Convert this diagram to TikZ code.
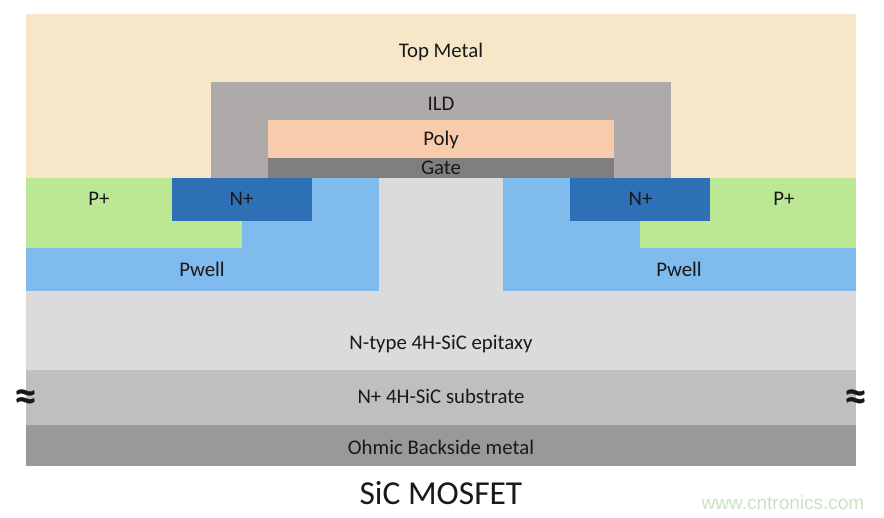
\documentclass[tikz,border=0pt]{standalone}
\usepackage{fontspec}
\setmainfont{Carlito}
\newfontfamily\markfont{Liberation Sans}
\definecolor{metalcol}{HTML}{F8E6C8}
\definecolor{ildcol}{HTML}{AEAAAA}
\definecolor{polycol}{HTML}{F8CBAD}
\definecolor{gatecol}{HTML}{7F7F7F}
\definecolor{epicol}{HTML}{DBDBDB}
\definecolor{wellcol}{HTML}{7FBBEC}
\definecolor{ppluscol}{HTML}{BCE795}
\definecolor{npluscol}{HTML}{2E70B6}
\definecolor{subcol}{HTML}{BFBFBF}
\definecolor{backcol}{HTML}{999999}
\definecolor{markcol}{HTML}{C8E4C0}
\begin{document}
\begin{tikzpicture}
	[x=1pt,y=-1pt,every node/.style={font=\fontsize{20.8}{22}\selectfont,inner sep=0pt,anchor=base,text=black!90},
	title/.style={font=\fontsize{33.5}{36}\selectfont},
	breakmark/.style={font=\fontsize{46}{48}\selectfont\bfseries},
	webmark/.style={font=\fontsize{19}{22}\markfont,text=markcol}]
	\useasboundingbox (0,0) rectangle (884,518);
	\fill[white] (0,0) rectangle (884,518);

	\foreach \xa/\ya/\xb/\yb/\col in {26/14/856/178.3/metalcol,211/82/671/178.3/ildcol,
		268.3/120/613.5/157.7/polycol,268.3/157.7/613.5/178.3/gatecol,26/178.3/856/370/epicol,
		26/178.3/379/291/wellcol,503/178.3/856/291/wellcol,26/178.3/242/248/ppluscol,
		640/178.3/856/248/ppluscol,172/178.3/311.7/221/npluscol,570/178.3/710/221/npluscol,
		26/370/856/425/subcol,26/425/856/466/backcol}
	\fill[\col] (\xa,\ya) rectangle (\xb,\yb);

	\node (metal) at (441,58) {Top Metal};
	\node (ild) at (441,111) {ILD};
	\node (poly) at (441,145.5) {Poly};
	\node (gate) at (441,175) {Gate};
	\node (pl) at (99,206) {P+};
	\node (nl) at (241.5,206) {N+};
	\node (nr) at (640.5,206) {N+};
	\node (pr) at (784,206) {P+};
	\node (wl) at (202,277) {Pwell};
	\node (wr) at (679,277) {Pwell};
	\node (epi) at (441,350) {N-type 4H-SiC epitaxy};
	\node (sub) at (441,404) {N+ 4H-SiC substrate};
	\node (back) at (441,455) {Ohmic Backside metal};
	\node[title] (name) at (441,504.5) {SiC MOSFET};
	\node[breakmark] (bl) at (26,412) {≈};
	\node[breakmark] (br) at (855.5,412) {≈};
	\node[webmark] (web) at (783,509) {www.cntronics.com};
\end{tikzpicture}
\end{document}
